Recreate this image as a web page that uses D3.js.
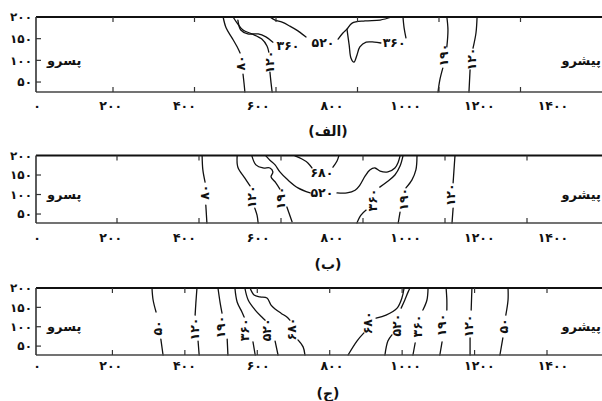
<!DOCTYPE html>
<html><head><meta charset="utf-8">
<script src="https://cdn.jsdelivr.net/npm/d3@7"></script>
<style>
  body { margin: 0; background: #fff; }
  svg { display: block; }
  text { font-family: "DejaVu Sans", sans-serif; font-weight: bold; fill: #111; }
</style>
</head><body>
<svg id="chart" width="602" height="401"></svg>
<script>
// Axis values
const xTickValues = [0, 200, 400, 600, 800, 1000, 1200, 1400];
const yTickValues = [50, 100, 150, 200];
const depthDomain = [27, 200];
const captions = ["(الف)", "(ب)", "(ج)"];
const leftLabel = "پسرو";
const rightLabel = "پیشرو";

// Contour lines: level, label anchor [x, depth], whether the label is upright text,
// and the line pieces on either side of the label, in [x, depth] units.
const contoursA = [
  { level: 80, at: [553, 94], vertical: true, segs: [
    [[505,200],[513,175],[529,152],[545,128],[551,117]],
    [[559,68],[562,45],[564,27]] ] },
  { level: 120, at: [630, 96], vertical: true, segs: [
    [[532,200],[543,186],[559,170],[583,161],[610,149],[624,133],[629,119]],
    [[632,73],[635,48],[638,27]] ] },
  { level: 360, at: [681, 135], vertical: false, segs: [
    [[545,193],[553,170],[572,161],[600,161],[621,154],[640,142]] ] },
  { level: 520, at: [776, 140], vertical: false, segs: [
    [[632,200],[646,193],[665,188],[686,179],[708,168],[730,154]],
    [[817,149],[830,163],[841,172],[855,186],[890,191],[931,193],[963,200]] ] },
  { level: 360, at: [969, 142], vertical: false, segs: [
    [[841,172],[847,135],[852,105],[860,96],[868,112],[876,131],[893,142],[915,142],[933,140]],
    [[1001,152],[996,175],[993,200]] ] },
  { level: 190, at: [1104, 112], vertical: true, segs: [
    [[1112,200],[1115,170],[1112,131]],
    [[1101,82],[1093,55],[1088,27]] ] },
  { level: 120, at: [1180, 103], vertical: true, segs: [
    [[1194,200],[1191,163],[1183,128]],
    [[1175,78],[1172,27]] ] }
];

const contoursB = [
  { level: 80, at: [456, 106], vertical: true, segs: [
    [[448,199],[450,163],[456,132]],
    [[458,73],[461,27]] ] },
  { level: 120, at: [581, 94], vertical: true, segs: [
    [[543,199],[545,170],[564,142],[578,122]],
    [[591,65],[597,47],[600,27]] ] },
  { level: 190, at: [662, 91], vertical: true, segs: [
    [[583,199],[594,176],[613,168],[632,168],[640,158],[635,145],[648,130],[659,114]],
    [[678,68],[692,30]] ] },
  { level: 520, at: [773, 104], vertical: false, segs: [
    [[621,199],[632,188],[646,176],[659,158],[681,137],[708,117],[741,104]],
    [[814,104],[841,104],[863,111],[876,124],[890,147],[903,163],[917,168],[931,160],[952,158],[971,168],[980,183],[985,199]] ] },
  { level: 680, at: [773, 155], vertical: false, segs: [
    [[700,199],[719,191],[735,181],[746,168]],
    [[803,170],[814,186],[819,199]] ] },
  { level: 360, at: [911, 86], vertical: true, segs: [
    [[993,199],[985,173],[971,150],[949,132],[930,119]],
    [[893,60],[879,47],[868,27]] ] },
  { level: 190, at: [996, 88], vertical: true, segs: [
    [[1031,199],[1028,163],[1017,137],[1001,117]],
    [[985,55],[980,27]] ] },
  { level: 120, at: [1123, 99], vertical: true, segs: [
    [[1134,199],[1131,158],[1129,130]],
    [[1129,65],[1126,27]] ] }
];

const contoursC = [
  { level: 50, at: [328, 97], vertical: true, segs: [
    [[312,200],[315,169],[323,138]], [[336,68],[342,27]] ] },
  { level: 120, at: [429, 94], vertical: true, segs: [
    [[434,200],[431,161],[429,130]], [[437,63],[440,27]] ] },
  { level: 190, at: [499, 99], vertical: true, segs: [
    [[491,200],[497,161],[502,135]], [[516,68],[518,27]] ] },
  { level: 360, at: [562, 92], vertical: true, segs: [
    [[537,200],[543,164],[556,138],[562,125]], [[586,61],[592,27]] ] },
  { level: 520, at: [624, 92], vertical: true, segs: [
    [[564,200],[573,169],[592,143],[610,125],[619,117]], [[646,63],[654,27]] ] },
  { level: 680, at: [692, 94], vertical: true, segs: [
    [[578,200],[589,182],[605,177],[624,174],[635,156],[646,146],[662,135],[678,125],[686,117]],
    [[708,66],[722,48],[727,27]] ] },
  { level: 680, at: [898, 110], vertical: true, segs: [
    [[844,27],[868,63],[887,84]],
    [[920,122],[947,130],[977,148],[990,174],[996,200]] ] },
  { level: 520, at: [977, 104], vertical: true, segs: [
    [[944,27],[952,63],[963,79]],
    [[988,148],[998,169],[1007,190],[1012,200]] ] },
  { level: 360, at: [1034, 102], vertical: true, segs: [
    [[1020,27],[1026,58]], [[1047,143],[1058,169],[1061,200]] ] },
  { level: 190, at: [1099, 104], vertical: true, segs: [
    [[1093,27],[1099,61]], [[1112,143],[1112,169],[1110,200]] ] },
  { level: 120, at: [1172, 102], vertical: true, segs: [
    [[1175,27],[1175,71]], [[1178,143],[1180,200]] ] },
  { level: 50, at: [1267, 102], vertical: true, segs: [
    [[1256,27],[1264,71]], [[1272,130],[1278,169],[1278,200]] ] }
];

const faDigits = "۰۱۲۳۴۵۶۷۸۹";
const fa = v => String(v).replace(/\d/g, d => faDigits[+d]);

const svg = d3.select("#chart");
const W = 602;
const plotLeft = 36;

// Data x scale (used for contours and tick labels)
const x = d3.scaleLinear().domain([0, 1400]).range([37, 553]);

const panels = [
  { data: contoursA, top: 17, bottom: 92, tickRange: [31.5, 602], xLabelY: 110, captionY: 136 },
  { data: contoursB, top: 155.5, bottom: 223, tickRange: [35, 609], xLabelY: 242, captionY: 269 },
  { data: contoursC, top: 288, bottom: 355, tickRange: [40, 547], xLabelY: 370, captionY: 398 }
];

panels.forEach((p, i) => {
  const g = svg.append("g");
  const y = d3.scaleLinear().domain(depthDomain).range([p.bottom, p.top]);
  const tx = d3.scaleLinear().domain([0, 1400]).range(p.tickRange);

  // contour lines
  const line = d3.line().x(d => x(d[0])).y(d => y(d[1])).curve(d3.curveCatmullRom.alpha(0.5));
  p.data.forEach(c => {
    c.segs.forEach(s => {
      g.append("path").attr("d", line(s))
        .attr("fill", "none").attr("stroke", "#111")
        .attr("stroke-width", 1.3).attr("stroke-linejoin", "round").attr("stroke-linecap", "round");
    });
    const lx = x(c.at[0]), ly = y(c.at[1]);
    g.append("text")
      .attr("transform", c.vertical ? `translate(${lx},${ly}) rotate(-90)` : `translate(${lx},${ly})`)
      .attr("text-anchor", "middle").attr("dy", "0.35em")
      .attr("font-size", 12.5).text(fa(c.level));
  });

  // frame
  g.append("line").attr("x1", plotLeft).attr("x2", W).attr("y1", p.top).attr("y2", p.top)
    .attr("stroke", "#111").attr("stroke-width", 2.2);
  g.append("line").attr("x1", plotLeft).attr("x2", W).attr("y1", p.bottom).attr("y2", p.bottom)
    .attr("stroke", "#444").attr("stroke-width", 1.6);
  g.append("line").attr("x1", plotLeft).attr("x2", plotLeft).attr("y1", p.top).attr("y2", p.bottom)
    .attr("stroke", "#333").attr("stroke-width", 1.6);

  // x tick marks (inside, top and bottom)
  xTickValues.filter(v => v > 0 && tx(v) < W).forEach(v => {
    g.append("line").attr("x1", tx(v)).attr("x2", tx(v)).attr("y1", p.top).attr("y2", p.top + 5)
      .attr("stroke", "#333").attr("stroke-width", 1.2);
    g.append("line").attr("x1", tx(v)).attr("x2", tx(v)).attr("y1", p.bottom).attr("y2", p.bottom - 5)
      .attr("stroke", "#333").attr("stroke-width", 1.2);
  });
  // x tick labels
  xTickValues.forEach(v => {
    g.append("text").attr("x", x(v)).attr("y", p.xLabelY).attr("text-anchor", "middle")
      .attr("font-size", 12.5).text(fa(v));
  });

  // y ticks and labels
  yTickValues.forEach(v => {
    if (v < 200) {
      g.append("line").attr("x1", plotLeft).attr("x2", plotLeft + 5).attr("y1", y(v)).attr("y2", y(v))
        .attr("stroke", "#333").attr("stroke-width", 1.2);
    }
    g.append("text").attr("x", 32).attr("y", y(v)).attr("dy", "0.35em").attr("text-anchor", "end")
      .attr("font-size", 12).text(fa(v));
  });

  // side labels
  const mid = y(100);
  g.append("text").attr("x", 47).attr("y", mid).attr("dy", "0.35em").attr("text-anchor", "start")
    .attr("font-size", 13).text(leftLabel);
  g.append("text").attr("x", 601).attr("y", mid).attr("dy", "0.35em").attr("text-anchor", "end")
    .attr("font-size", 13).text(rightLabel);

  // caption
  g.append("text").attr("x", 328).attr("y", p.captionY).attr("text-anchor", "middle")
    .attr("font-size", 14).text(captions[i]);
});
</script>
</body></html>
